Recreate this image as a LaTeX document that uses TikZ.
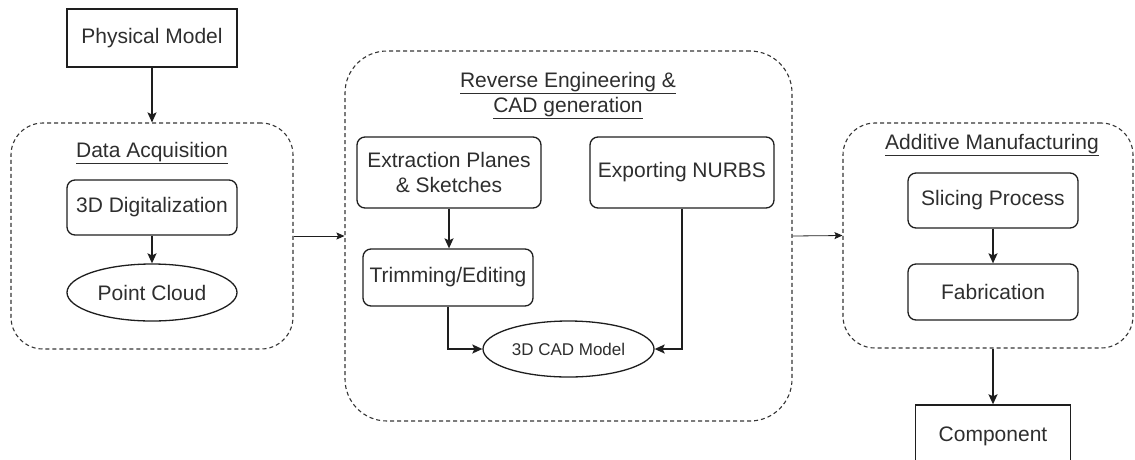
\documentclass[tikz,border=0pt]{standalone}
\usepackage{fontspec}
\setmainfont{Liberation Sans}
\usetikzlibrary{shapes.geometric,arrows.meta}
\definecolor{ink}{HTML}{1E1E1E}
\definecolor{txt}{HTML}{2E2E2E}
\begin{document}
\begin{tikzpicture}[x=1pt,y=-1pt,
  every node/.style={text=txt,font=\fontsize{21}{25}\selectfont,inner sep=0pt},
  plainbox/.style={draw=ink,line width=1.4pt,minimum width=#1,minimum height=58pt},
  roundbox/.style={draw=ink,line width=1.3pt,rounded corners=8pt,minimum width=#1,minimum height=56pt,align=center},
  oval/.style={draw=ink,line width=1.3pt,ellipse,minimum width=#1,minimum height=56pt},
  group/.style={draw=ink!90,line width=1.1pt,dash pattern=on 4pt off 3pt,rounded corners=32pt},
  title/.style={align=center},
  flow/.style={draw=ink,line width=1.5pt,-{Stealth[length=10pt,width=9pt,inset=2pt]}},
  link/.style={draw=ink,line width=0.8pt,-{Stealth[length=8pt,width=7pt,inset=1.5pt]}}]
\useasboundingbox (0,0) rectangle (1135,459);

% groups
\node[group,minimum width=282pt,minimum height=226pt] (da) at (152,236) {};
\node[group,minimum width=447pt,minimum height=370pt,rounded corners=42pt] (re) at (568.5,236) {};
\node[group,minimum width=290pt,minimum height=225pt] (am) at (988,235.5) {};

% group titles
\node[title] (daT) at (152,153) {\underline{Data Acquisition}};
\node[title] (reT) at (568,96) {\underline{Reverse Engineering \&}\\\underline{CAD generation}};
\node[title] (amT) at (992,145) {\underline{Additive Manufacturing}};

% outer boxes
\node[plainbox=170pt] (pm) at (152,38) {Physical Model};
\node[plainbox=155pt,minimum height=62pt] (comp) at (993,436) {Component};

% data acquisition
\node[roundbox=170pt,minimum height=55pt] (dig) at (152,207.5) {3D Digitalization};
\node[oval=170pt,minimum height=57pt] (pc) at (152,292.5) {Point Cloud};

% reverse engineering
\node[roundbox=184pt,minimum height=71pt] (ext) at (449,172.5) {Extraction Planes\\\& Sketches};
\node[roundbox=184pt,minimum height=71pt] (nurbs) at (682,172.5) {Exporting NURBS};
\node[roundbox=170pt,minimum height=57pt] (trim) at (448,277.5) {Trimming/Editing};
\node[oval=171pt,font=\fontsize{17}{20}\selectfont] (cad) at (568.5,349) {3D CAD Model};

% additive manufacturing
\node[roundbox=170pt,minimum height=55pt] (sli) at (993,200.5) {Slicing Process};
\node[roundbox=170pt] (fab) at (993,292) {Fabrication};

% connectors
\draw[flow] (pm) -- (da);
\draw[flow] (dig) -- (pc);
\draw[link] (da.east) -- (re.west);
\draw[flow] (ext.south) -- (ext.south |- trim.north);
\draw[flow] (trim.south) |- (cad.west);
\draw[flow] (nurbs.south) |- (cad.east);
\draw[link] (re.east) -- (am.west);
\draw[flow] (sli) -- (fab);
\draw[flow] (comp.north |- am.south) -- (comp.north);
\end{tikzpicture}
\end{document}
